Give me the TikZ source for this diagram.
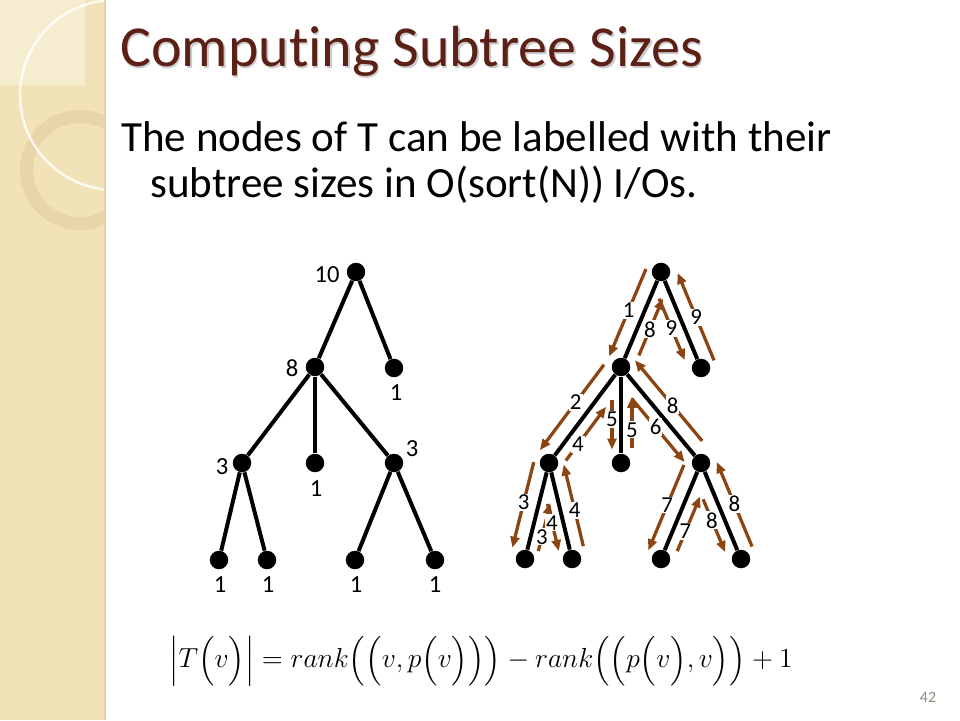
\documentclass[tikz,border=0pt]{standalone}
\usepackage{amsmath}
\usepackage{fontspec}
\setmainfont{Carlito}[Ligatures=NoCommon]
\usetikzlibrary{calc,arrows.meta}

\definecolor{tourbrown}{RGB}{139,69,19}
\definecolor{titlebrown}{RGB}{92,32,22}
\definecolor{stripbeige}{RGB}{242,226,183}
\definecolor{stripring}{RGB}{226,206,160}
\definecolor{pagegray}{RGB}{150,140,120}

\tikzset{
  treenode/.style={circle, fill=black, minimum size=0.37cm, inner sep=0pt},
  treeedge/.style={line width=0.08cm},
  sizelabel/.style={font=\fontsize{14}{14}\selectfont, inner sep=0pt},
  tour/.style={line width=0.065cm, tourbrown, -{Triangle[length=0.22cm,width=0.18cm]}},
  tourlabel/.style={fill=white, inner sep=0.6pt, font=\fontsize{13}{13}\selectfont, text=black},
}

% one leg of the Euler tour: from, to, start, end, offset, label pos, label
\newcommand{\tourarrow}[7]{%
  \path (#1.center) -- (#2.center) coordinate[pos=#3] (ts) coordinate[pos=#4] (te);
  \draw[tour] ($(ts)!#5!-90:(te)$) -- node[tourlabel, pos=#6] (t#1#2) {#7} ($(te)!#5!90:(ts)$);
}

\begin{document}
\begin{tikzpicture}
\useasboundingbox (0,0) rectangle (19.2,14.4);

% Drawing the left strip
\begin{scope}
  \clip (0,0) rectangle (2.1,14.4);
  \fill[stripbeige] (0,0) rectangle (2.1,14.4);
  \fill[white, opacity=0.35] (0,12.7) rectangle (1.7,14.4);
  \draw[stripring, opacity=0.6, line width=0.26cm] (1.6,11.0) circle (1.07);
  \draw[white, opacity=0.8, line width=0.05cm] (2.3,12.5) circle (1.9);
\end{scope}
\draw[stripring, line width=0.03cm] (2.1,0) -- (2.1,14.4);

% Marking title and text
\node[anchor=base west, text=gray!40, font=\fontsize{33}{33}\selectfont, inner sep=0pt] (titleshadow) at (2.43,13.03) {Computing Subtree Sizes};
\node[anchor=base west, text=titlebrown, font=\fontsize{33}{33}\selectfont, inner sep=0pt] (title) at (2.40,13.06) {Computing Subtree Sizes};
\node[anchor=base west, font=\fontsize{24.5}{24.5}\selectfont, inner sep=0pt] (body1) at (2.42,11.36) {The nodes of T can be labelled with their};
\node[anchor=base west, font=\fontsize{24.5}{24.5}\selectfont, inner sep=0pt] (body2) at (3.00,10.44) {subtree sizes in O(sort(N)) I/Os.};

{\footnotesize

% Drawing tree with subtree sizes
\node[treenode] (r) at (7.120000,8.960000) {};
\node[treenode] (a) at (6.300000,7.060000) {};
\node[treenode] (b) at (7.880000,7.040000) {};
\node[treenode] (c) at (4.840000,5.140000) {};
\node[treenode] (d) at (6.300000,5.140000) {};
\node[treenode] (e) at (7.880000,5.140000) {};
\node[treenode] (f) at (4.380000,3.200000) {};
\node[treenode] (g) at (5.340000,3.200000) {};
\node[treenode] (h) at (7.100000,3.200000) {};
\node[treenode] (i) at (8.700000,3.200000) {};
\draw[treeedge] (r) -- (a);
\draw[treeedge] (r) -- (b);
\draw[treeedge] (a) -- (c);
\draw[treeedge] (a) -- (d);
\draw[treeedge] (a) -- (e);
\draw[treeedge] (c) -- (f);
\draw[treeedge] (c) -- (g);
\draw[treeedge] (e) -- (h);
\draw[treeedge] (e) -- (i);

% Marking subtree sizes
\node[sizelabel] (sr) at (6.540000,8.900000) {10};
\node[sizelabel] (sa) at (5.840000,7.040000) {8};
\node[sizelabel] (sb) at (7.920000,6.540000) {1};
\node[sizelabel] (sc) at (4.440000,5.060000) {3};
\node[sizelabel] (sd) at (6.320000,4.620000) {1};
\node[sizelabel] (se) at (8.240000,5.420000) {3};
\node[sizelabel] (sf) at (4.400000,2.700000) {1};
\node[sizelabel] (sg) at (5.360000,2.700000) {1};
\node[sizelabel] (sh) at (7.120000,2.700000) {1};
\node[sizelabel] (si) at (8.700000,2.700000) {1};

% Drawing tree with Euler tour
\node[treenode] (R) at (13.220000,8.960000) {};
\node[treenode] (A) at (12.420000,7.060000) {};
\node[treenode] (B) at (14.020000,7.040000) {};
\node[treenode] (C) at (10.980000,5.140000) {};
\node[treenode] (D) at (12.420000,5.140000) {};
\node[treenode] (E) at (14.020000,5.140000) {};
\node[treenode] (F) at (10.500000,3.220000) {};
\node[treenode] (G) at (11.440000,3.220000) {};
\node[treenode] (H) at (13.220000,3.220000) {};
\node[treenode] (I) at (14.820000,3.220000) {};
\draw[treeedge] (R) -- (A);
\draw[treeedge] (R) -- (B);
\draw[treeedge] (A) -- (C);
\draw[treeedge] (A) -- (D);
\draw[treeedge] (A) -- (E);
\draw[treeedge] (C) -- (F);
\draw[treeedge] (C) -- (G);
\draw[treeedge] (E) -- (H);
\draw[treeedge] (E) -- (I);

% Drawing tour arrows
\tourarrow{R}{A}{0.03}{0.95}{0.30cm}{0.47}{1}
\tourarrow{A}{C}{0.07}{0.96}{0.30cm}{0.44}{2}
\tourarrow{C}{F}{0.03}{0.92}{0.30cm}{0.47}{3}
\tourarrow{F}{C}{0.11}{0.61}{0.22cm}{0.30}{3}
\tourarrow{C}{G}{0.40}{0.89}{0.22cm}{0.40}{4}
\tourarrow{G}{C}{0.10}{0.95}{0.28cm}{0.44}{4}
\tourarrow{C}{A}{0.10}{0.66}{0.24cm}{0.30}{4}
\tourarrow{A}{D}{0.34}{0.86}{0.18cm}{0.40}{5}
\tourarrow{D}{A}{0.16}{0.69}{0.22cm}{0.35}{5}
\tourarrow{A}{E}{0.25}{0.91}{0.24cm}{0.45}{6}
\tourarrow{E}{H}{0.08}{0.97}{0.30cm}{0.47}{7}
\tourarrow{H}{E}{0.13}{0.70}{0.24cm}{0.36}{7}
\tourarrow{E}{I}{0.33}{0.88}{0.24cm}{0.40}{8}
\tourarrow{I}{E}{0.07}{0.95}{0.30cm}{0.50}{8}
\tourarrow{E}{A}{0.13}{0.97}{0.30cm}{0.44}{8}
\tourarrow{A}{R}{0.17}{0.77}{0.24cm}{0.46}{8}
\tourarrow{R}{B}{0.23}{0.87}{0.24cm}{0.48}{9}
\tourarrow{B}{R}{0.02}{0.93}{0.30cm}{0.49}{9}

}

% Marking the formula
\node[font=\fontsize{14.4}{14.4}\selectfont, scale=1.09, transform shape] (rankeq) at (9.620000,1.180000)
  {$\Bigl|T\Bigl(v\Bigr)\Bigr| = rank\Bigl(\Bigl(v, p\Bigl(v\Bigr)\Bigr)\Bigr) - rank\Bigl(\Bigl(p\Bigl(v\Bigr), v\Bigr)\Bigr) + 1$};

% Marking page number
\node[text=pagegray, font=\fontsize{9}{9}\selectfont] (pagenum) at (18.560000,0.460000) {42};

\end{tikzpicture}
\end{document}
